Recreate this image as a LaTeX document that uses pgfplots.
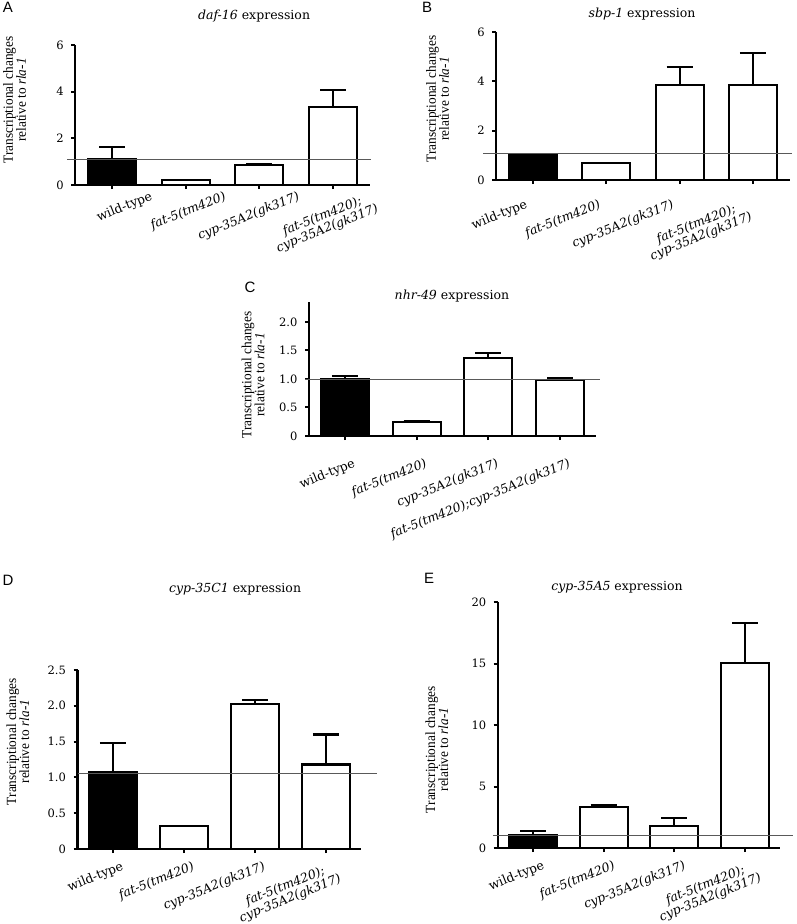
\documentclass[border=0pt]{standalone}
\usepackage{fontspec}
\setmainfont{DejaVu Serif}
\newfontfamily\ylabfont[FakeStretch=0.95]{Liberation Serif}
\newfontfamily\panelfont{Liberation Sans}
\usepackage{pgfplots}
\pgfplotsset{compat=1.18}
\usepackage{pgfplotstable}

% ---------- data ----------
\pgfplotstableread{
x y e
0 1.10 0.53
}\Awt
\pgfplotstableread{
x y e
1 0.21 0
2 0.86 0.04
3 3.34 0.73
}\Aoth
\pgfplotstableread{
x y e
0 1.01 0
}\Bwt
\pgfplotstableread{
x y e
1 0.69 0
2 3.85 0.72
3 3.85 1.30
}\Both
\pgfplotstableread{
x y e
0 1.00 0.05
}\Cwt
\pgfplotstableread{
x y e
1 0.25 0.02
2 1.37 0.08
3 0.98 0.04
}\Coth
\pgfplotstableread{
x y e
0 1.07 0.41
}\Dwt
\pgfplotstableread{
x y e
1 0.32 0
2 2.02 0.06
3 1.18 0.42
}\Doth
\pgfplotstableread{
x y e
0 1.06 0.32
}\Ewt
\pgfplotstableread{
x y e
1 3.33 0.13
2 1.79 0.65
3 15.04 3.26
}\Eoth

\pgfplotsset{
  panel/.style={
    scale only axis,
    anchor=south west,
    axis x line=bottom, axis y line=left,
    axis line style={line width=2.1pt, -},
    xmin=-0.5, xmax=3.5, ymin=0,
    xtick={0,1,2,3},
    tick align=outside,
    major tick length=4pt,
    tick style={line width=2pt, black},
    y tick label style={font=\fontsize{11.5}{12}\selectfont, xshift=-4pt},
    ylabel={Transcriptional changes\\relative to \textit{rla-1}},
    ylabel style={align=center, font=\ylabfont\fontsize{14}{13}\selectfont, anchor=center},
    title style={font=\fontsize{12.5}{14}\selectfont, anchor=center},
    clip=false,
  },
  twoline/.style={
    xticklabels={wild-type,\textit{fat-5(tm420)},\textit{cyp-35A2(gk317)},{\textit{fat-5(tm420);}\\\textit{cyp-35A2(gk317)}}},
  },
  xlab/.style 2 args={x tick label style={xshift=#1, yshift=#2, rotate=22, anchor=north east, align=center, font=\fontsize{12.5}{13}\selectfont, inner sep=1pt}},
  wtbar/.style={ybar, bar width=48pt, bar shift=0pt, fill=black, draw=black, line width=2.1pt,
    error bars/.cd, y dir=plus, y explicit,
    error bar style={line width=2.1pt, black},
    error mark options={rotate=90, line width=2.1pt, mark size=13pt, black}},
  othbar/.style={ybar, bar width=48pt, bar shift=0pt, fill=white, draw=black, line width=2.1pt,
    error bars/.cd, y dir=plus, y explicit,
    error bar style={line width=2.1pt, black},
    error mark options={rotate=90, line width=2.1pt, mark size=13pt, black}},
  refline/.style={black!65, line width=0.9pt, no markers},
}

\begin{document}
\begin{tikzpicture}
\path[use as bounding box] (0pt,0pt) rectangle (796pt,-924pt);

% ---------- A ----------
\begin{axis}[panel, twoline, xlab={38pt}{0pt},
  at={(75.2pt,-185pt)}, width=294.7pt, height=140pt,
  ymax=6, ytick={0,2,4,6}, yticklabels={0,2,4,6},
  ylabel style={at={(axis description cs:-0.206,0.607)}},
  title={\textit{daf-16} expression},
  title style={at={(axis description cs:0.607,1.164)}}]
\addplot[wtbar] table[x=x,y=y,y error=e]{\Awt};
\addplot[othbar] table[x=x,y=y,y error=e]{\Aoth};
\addplot[refline] coordinates {(-0.61,1.1) (3.52,1.1)};
\end{axis}

% ---------- B ----------
\begin{axis}[panel, twoline, xlab={-8pt}{-13pt},
  at={(496.3pt,-180pt)}, width=293.3pt, height=148pt,
  ymax=6, ytick={0,2,4,6}, yticklabels={0,2,4,6},
  ylabel style={at={(axis description cs:-0.20,0.547)}},
  title={\textit{sbp-1} expression},
  title style={at={(axis description cs:0.497,1.081)}}]
\addplot[wtbar] table[x=x,y=y,y error=e]{\Bwt};
\addplot[othbar] table[x=x,y=y,y error=e]{\Both};
\addplot[refline] coordinates {(-0.68,1.09) (3.53,1.09)};
\end{axis}

% ---------- C ----------
\begin{axis}[panel, xlab={8pt}{-16pt},
  xticklabels={wild-type,\textit{fat-5(tm420)},\textit{cyp-35A2(gk317)},\textit{fat-5(tm420);cyp-35A2(gk317)}},
  at={(309pt,-436pt)}, width=287pt, height=134pt,
  ymax=2.35, ytick={0,0.5,1,1.5,2}, yticklabels={0,0.5,1.0,1.5,2.0},
  ylabel style={at={(axis description cs:-0.195,0.455)}},
  title={\textit{nhr-49} expression},
  title style={at={(axis description cs:0.498,1.0)}}]
\addplot[wtbar] table[x=x,y=y,y error=e]{\Cwt};
\addplot[othbar] table[x=x,y=y,y error=e]{\Coth};
\addplot[refline] coordinates {(-0.55,1.0) (3.56,1.0)};
\end{axis}

% ---------- D ----------
\begin{axis}[panel, twoline, xlab={8pt}{-6pt},
  at={(77.5pt,-849pt)}, width=284pt, height=179pt,
  ymax=2.5, ytick={0,0.5,1,1.5,2,2.5}, yticklabels={0,0.5,1.0,1.5,2.0,2.5},
  ylabel style={at={(axis description cs:-0.21,0.60)}},
  title={\textit{cyp-35C1} expression},
  title style={at={(axis description cs:0.555,1.419)}}]
\addplot[wtbar] table[x=x,y=y,y error=e]{\Dwt};
\addplot[othbar] table[x=x,y=y,y error=e]{\Doth};
\addplot[refline] coordinates {(-0.49,1.05) (3.72,1.05)};
\end{axis}

% ---------- E ----------
\begin{axis}[panel, twoline, xlab={9pt}{-6pt},
  at={(497.7pt,-848pt)}, width=282.7pt, height=246pt,
  ymax=20, ytick={0,5,10,15,20}, yticklabels={0,5,10,15,20},
  ylabel style={at={(axis description cs:-0.215,0.40)}},
  title={\textit{cyp-35A5} expression},
  title style={at={(axis description cs:0.422,1.037)}}]
\addplot[wtbar] table[x=x,y=y,y error=e]{\Ewt};
\addplot[othbar] table[x=x,y=y,y error=e]{\Eoth};
\addplot[refline] coordinates {(-0.57,1.0) (3.68,1.0)};
\end{axis}

% ---------- panel letters ----------
\begin{scope}[every node/.style={font=\panelfont\fontsize{15}{15}\selectfont, inner sep=0pt}]
\node at (8pt,-7pt) {A};
\node at (427pt,-7pt) {B};
\node at (250pt,-287pt) {C};
\node at (8pt,-580pt) {D};
\node at (429pt,-578pt) {E};
\end{scope}
\end{tikzpicture}
\end{document}
